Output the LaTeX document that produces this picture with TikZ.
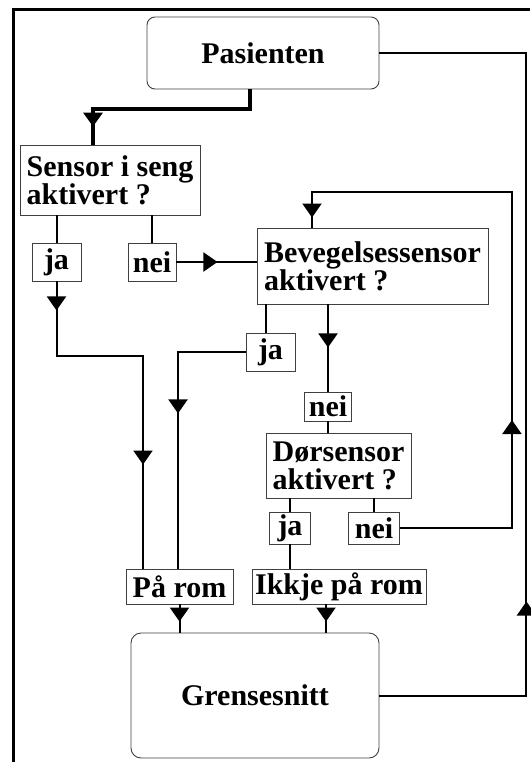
\documentclass[tikz,border=0pt]{standalone}
\usepackage{fontspec}
\setmainfont{Liberation Serif}
\usetikzlibrary{arrows.meta, decorations.markings}

\begin{document}
\begin{tikzpicture}[
    x=1pt, y=-1pt,
    % boxes
    endbox/.style={
        rectangle,
        rounded corners=8pt,
        draw=black!75,
        line width=0.9pt,
        inner sep=2pt,
        font=\fontsize{30}{28}\selectfont\bfseries
    },
    qbox/.style={
        rectangle,
        draw=black!75,
        line width=0.9pt,
        inner sep=1pt,
        align=left,
        font=\fontsize{30}{28}\selectfont\bfseries
    },
    ansbox/.style={
        rectangle,
        draw=black!75,
        line width=0.9pt,
        inner sep=0.5pt,
        font=\fontsize{30}{28}\selectfont\bfseries
    },
    % lines
    flow/.style={line width=2pt, black},
    thickflow/.style={line width=4pt, black},
    frame/.style={line width=3pt, black},
    tri/.tip={Triangle[width=19pt,length=14pt]},
    arrowat/.style={
        postaction={decorate, decoration={markings,
            mark=at position #1 with {\arrow{tri}}}}
    }
]
\useasboundingbox (0,0) rectangle (530,762);

% === Frame ===
\draw[frame] (13,762) -- (13,10) -- (530,10);

% === Start and end ===
\node[endbox, minimum width=232pt, minimum height=72pt] (pasienten) at (263,53) {Pasienten};
\node[endbox, rounded corners=10pt, minimum width=248pt, minimum height=125pt] (gren) at (255,695.5) {Grensesnitt};

% === Questions ===
\node[qbox, minimum width=180pt, minimum height=70pt] (sensor) at (110,180) {Sensor i seng\\aktivert ?};
\node[qbox, minimum width=231pt, minimum height=76pt] (bev) at (372.5,266) {Bevegelsessensor\\aktivert ?};
\node[qbox, minimum width=145pt, minimum height=65pt] (dor) at (338.5,465.5) {Dørsensor\\aktivert ?};

% === Answers ===
\node[ansbox, minimum width=49pt, minimum height=38pt] (ja1) at (56.5,262) {ja};
\node[ansbox, minimum width=48pt, minimum height=38pt] (nei1) at (152,262) {nei};
\node[ansbox, minimum width=49pt, minimum height=38pt] (ja2) at (270.5,352) {ja};
\node[ansbox, minimum width=47pt, minimum height=29pt] (nei2) at (328,406.5) {nei};
\node[ansbox, minimum width=41pt, minimum height=32pt] (ja3) at (290,528) {ja};
\node[ansbox, minimum width=51pt, minimum height=32pt] (nei3) at (374,528) {nei};

% === Results ===
\node[ansbox, minimum width=107pt, minimum height=35pt] (parom) at (179.5,586.5) {På rom};
\node[ansbox, minimum width=174pt, minimum height=35pt] (ikkje) at (339,586.5) {Ikkje på rom};

% === Connectors ===
\draw[thickflow, arrowat=-18pt] ([xshift=-13pt]pasienten.south) -- ++(0,20) -| ([xshift=-17pt]sensor.north);
\draw[flow] (sensor.south -| ja1.north) -- (ja1.north);
\draw[flow] (sensor.south -| nei1.north) -- (nei1.north);
\draw[flow, arrowat=29pt, arrowat=-104pt] (ja1.south) -- ++(0,75) -| ([xshift=-36.5pt]parom.north);
\draw[flow, arrowat=41pt] (nei1.east) -- (bev.west |- nei1.east);
\draw[flow] ([xshift=-106.5pt]bev.south) -- ([xshift=-106.5pt]bev.south |- ja2.north);
\draw[flow, arrowat=129pt] (ja2.west) -| ([xshift=-1.5pt]parom.north);
\draw[flow, arrowat=43pt] (bev.south -| nei2.north) -- (nei2.north);
\draw[flow] (nei2.south) -- (dor.north -| nei2.south);
\draw[flow] (dor.south -| ja3.north) -- (ja3.north);
\draw[flow] (dor.south -| nei3.north) -- (nei3.north);
\draw[flow] (ja3.south) -- (ikkje.north -| ja3.south);
\draw[flow, arrowat=220pt, arrowat=-10pt] (nei3.east) -- ++(112,0) -- ++(0,-336) -| ([xshift=-60.5pt]bev.north);
\draw[flow, arrowat=-11pt] (parom.south) -- (gren.north -| parom.south);
\draw[flow, arrowat=-11pt] ([xshift=-13pt]ikkje.south) -- ([xshift=-13pt]ikkje.south |- gren.north);
\draw[flow, arrowat=241pt] (gren.east) -- ++(147,0) |- (pasienten.east);

\end{tikzpicture}
\end{document}
